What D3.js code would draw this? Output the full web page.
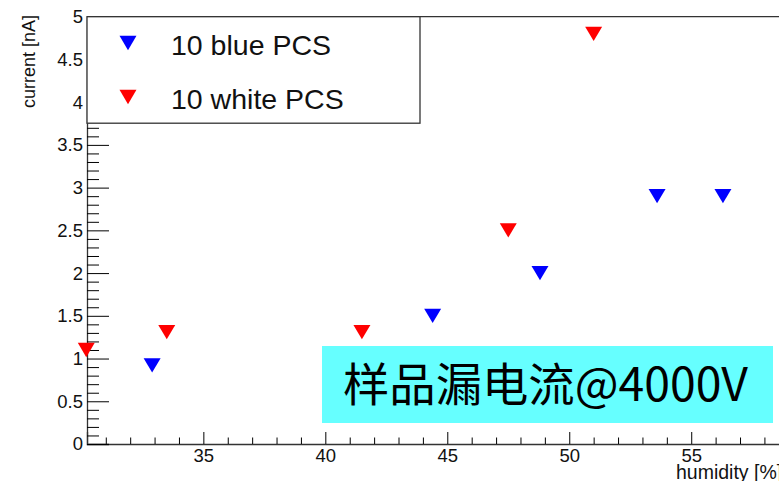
<!DOCTYPE html>
<html>
<head>
<meta charset="utf-8">
<script src="https://cdn.jsdelivr.net/npm/d3@7"></script>
<style>
  body { margin: 0; background: #fff; }
  svg { display: block; }
</style>
</head>
<body>
<script>
    // data
    const blueX = [32.9, 44.4, 48.8, 53.6, 56.3];
    const blueY = [0.92, 1.5, 2.0, 2.9, 2.9];
    const whiteX = [30.2, 33.5, 41.5, 47.5, 51.0];
    const whiteY = [1.1, 1.31, 1.31, 2.5, 4.8];
    const seriesNames = ["10 blue PCS", "10 white PCS"];
    const xTicks = [35, 40, 45, 50, 55];
    const yTicks = [0, 0.5, 1, 1.5, 2, 2.5, 3, 3.5, 4, 4.5, 5];
    const xTitle = "humidity [%]";
    const yTitle = "current [nA]";
    const note = "样品漏电流@4000V";

    const W = 779;
    const H = 481;

    //set the margins (right side runs off the canvas, like the original)
    const m = { top: 16.7, right: -22, bottom: 37, left: 87 };

    const svg = d3.select("body").append("svg")
        .attr("width", W)
        .attr("height", H);

    const xScale = d3.scaleLinear()
        .domain([30.23, 59.5])
        .range([m.left, W - m.right]);

    const yScale = d3.scaleLinear()
        .domain([0, 5])
        .range([H - m.bottom, m.top]);

    const font = "'Liberation Sans', Arial, sans-serif";

    // frame lines
    const frame = svg.append("g").attr("stroke", "#333").attr("stroke-width", 1.3);
    frame.append("line")
        .attr("x1", m.left).attr("x2", W - m.right)
        .attr("y1", yScale(5)).attr("y2", yScale(5));

    // x axis: major every 5, minor every 1
    const xAxis = d3.axisBottom(xScale)
        .tickValues(xTicks)
        .tickSize(-12)
        .tickPadding(5)
        .tickFormat(d3.format("d"));
    const gx = svg.append("g")
        .attr("transform", "translate(0," + yScale(0) + ")")
        .call(xAxis);
    gx.select(".domain").attr("stroke", "#333").attr("stroke-width", 1.3);
    gx.selectAll("text").attr("font-family", font).attr("font-size", 18.5).attr("fill", "#111");

    const xMinor = d3.range(31, 60, 1).filter(v => v % 5 !== 0);
    svg.append("g")
        .attr("transform", "translate(0," + yScale(0) + ")")
        .call(d3.axisBottom(xScale).tickValues(xMinor).tickSize(-6.5).tickFormat(""))
        .select(".domain").remove();

    // y axis: major every 0.5, minor every 0.1
    const yAxis = d3.axisLeft(yScale)
        .tickValues(yTicks)
        .tickSize(-22)
        .tickPadding(5)
        .tickFormat(d3.format("~g"));
    const gy = svg.append("g")
        .attr("transform", "translate(" + m.left + ",0)")
        .call(yAxis);
    gy.select(".domain").attr("stroke", "#333").attr("stroke-width", 1.3);
    gy.selectAll(".tick line").attr("x1", 0);
    gy.selectAll("text")
        .attr("font-family", font).attr("font-size", 18.5).attr("fill", "#111")
        .attr("x", -4);

    const yMinor = d3.range(1, 50).map(v => v / 10).filter(v => Math.round(v * 10) % 5 !== 0);
    svg.append("g")
        .attr("transform", "translate(" + m.left + ",0)")
        .call(d3.axisLeft(yScale).tickValues(yMinor).tickSize(-12).tickFormat(""))
        .select(".domain").remove();

    // axis titles (x title runs off the right edge, as in the original)
    svg.append("text")
        .attr("x", 676)
        .attr("y", 478.5)
        .attr("font-family", font)
        .attr("font-size", 19.5)
        .attr("fill", "#111")
        .text(xTitle);

    svg.append("text")
        .attr("transform", "translate(35," + 15 + ") rotate(-90)")
        .attr("text-anchor", "end")
        .attr("font-family", font)
        .attr("font-size", 18)
        .attr("fill", "#111")
        .text(yTitle);

    // inverted triangle marker, centred on its box
    const downTri = {
        draw(ctx, size) {
            const w = Math.sqrt(size * 2.06);
            const h = w * 0.84;
            ctx.moveTo(-w / 2, -h / 2);
            ctx.lineTo(w / 2, -h / 2);
            ctx.lineTo(0, h / 2);
            ctx.closePath();
        }
    };
    const sym = d3.symbol().type(downTri).size(140);

    // legend box (white, covers the top of the y axis)
    const leg = svg.append("g");
    leg.append("rect")
        .attr("x", m.left)
        .attr("y", yScale(5))
        .attr("width", 333)
        .attr("height", 106.5)
        .attr("fill", "#fff")
        .attr("stroke", "#333")
        .attr("stroke-width", 1.3);

    const legColors = ["#0000ff", "#ff0000"];
    const legY = [43, 97];
    seriesNames.forEach((name, i) => {
        leg.append("path")
            .attr("d", sym())
            .attr("transform", "translate(128," + legY[i] + ")")
            .attr("fill", legColors[i]);
        leg.append("text")
            .attr("x", 171)
            .attr("y", legY[i] + 12)
            .attr("font-family", font)
            .attr("font-size", 28.5)
            .attr("fill", "#111")
            .text(name);
    });

    // points
    const series = [
        { xs: blueX, ys: blueY, color: "#0000ff" },
        { xs: whiteX, ys: whiteY, color: "#ff0000" }
    ];
    series.forEach(s => {
        svg.append("g").selectAll("path")
            .data(s.xs.map((x, i) => [x, s.ys[i]]))
            .enter()
            .append("path")
            .attr("d", sym())
            .attr("transform", d => "translate(" + xScale(d[0]) + "," + yScale(d[1]) + ")")
            .attr("fill", s.color);
    });

    // cyan note box
    svg.append("rect")
        .attr("x", 322)
        .attr("y", 346)
        .attr("width", 451)
        .attr("height", 77)
        .attr("fill", "#66ffff");

    svg.append("text")
        .attr("x", 343)
        .attr("y", 401)
        .attr("font-family", "'Noto Sans CJK SC', sans-serif")
        .attr("font-size", 46)
        .attr("fill", "#000")
        .attr("textLength", 405)
        .attr("lengthAdjust", "spacingAndGlyphs")
        .text(note);
</script>
</body>
</html>
